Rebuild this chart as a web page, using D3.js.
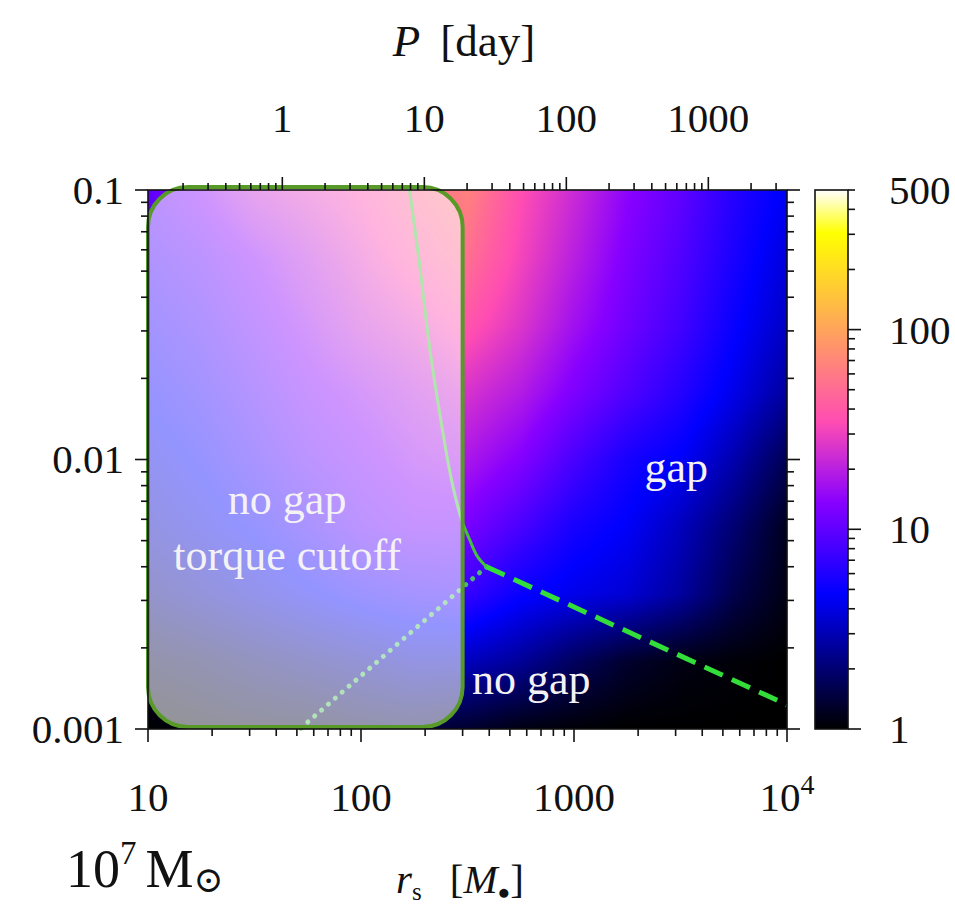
<!DOCTYPE html>
<html>
<head>
<meta charset="utf-8">
<script src="https://cdn.jsdelivr.net/npm/d3@7"></script>
<style>
  body { margin: 0; background: #fff; }
  svg { display: block; }
  text { font-family: "Liberation Serif", "DejaVu Serif", serif; fill: #111; }
</style>
</head>
<body>
<svg id="chart" width="955" height="908"></svg>
<script>
// ---- grid of the mapped quantity: log10(value) on log10(r_s) x log10(q) nodes ----
const logRadius = [1.00, 1.25, 1.50, 1.75, 2.00, 2.25, 2.50, 2.75, 3.00, 3.25, 3.50, 3.75, 4.00];
const logRatio  = [-3.00, -2.75, -2.50, -2.25, -2.00, -1.75, -1.50, -1.25, -1.00];
// one row per logRatio entry (bottom row first)
const logValue = [
  [0.00, 0.05, 0.08, 0.10, 0.15, 0.18, 0.12, 0.05, 0.02, 0.00, 0.00, 0.00, 0.00],
  [0.15, 0.20, 0.28, 0.35, 0.42, 0.50, 0.50, 0.40, 0.25, 0.12, 0.05, 0.02, 0.00],
  [0.35, 0.45, 0.55, 0.65, 0.75, 0.82, 0.85, 0.70, 0.62, 0.56, 0.42, 0.20, 0.05],
  [0.50, 0.60, 0.70, 0.85, 1.00, 1.08, 1.08, 0.92, 0.75, 0.66, 0.50, 0.30, 0.08],
  [0.60, 0.70, 0.85, 1.00, 1.10, 1.20, 1.25, 1.12, 0.92, 0.75, 0.66, 0.46, 0.22],
  [0.70, 0.80, 0.95, 1.10, 1.20, 1.30, 1.40, 1.28, 1.10, 0.95, 0.80, 0.62, 0.42],
  [0.80, 0.90, 1.05, 1.20, 1.35, 1.45, 1.58, 1.42, 1.22, 1.05, 0.90, 0.70, 0.52],
  [0.90, 1.00, 1.15, 1.30, 1.45, 1.60, 1.72, 1.50, 1.30, 1.10, 0.95, 0.76, 0.58],
  [1.00, 1.15, 1.35, 1.45, 1.55, 1.70, 1.82, 1.55, 1.36, 1.15, 1.00, 0.80, 0.65]
];

// ---- boundary curves (r_s in M_bh, q) ----
const cutoffR = [169, 188, 210, 234, 266, 297, 324, 353, 388];
const cutoffQ = [0.1, 0.0536, 0.0261, 0.0149, 0.0084, 0.00597, 0.00503, 0.00435, 0.0040];
const gapR = [388, 10000];
const gapQ = [0.0040, 0.00123];
const torqueR = [388, 51.6];
const torqueQ = [0.0040, 0.001];

// ---- axes ----
const radiusTicks = [10, 100, 1000, 10000];
const ratioTicks = [0.1, 0.01, 0.001];
const periodTicks = [1, 10, 100, 1000];
const colorTicks = [1, 10, 100, 500];
const colorDomain = [1, 500];
const radiusDomain = [10, 1e4];
const ratioDomain = [0.001, 0.1];
const blackHoleMass = 1e7;           // solar masses
const torqueBox = { r: [10, 300], q: [0.001, 0.1] };

const svg = d3.select("#chart");
const x = d3.scaleLog().domain(radiusDomain).range([148, 787]);
const y = d3.scaleLog().domain(ratioDomain).range([729, 190]);

// orbital period in days for a radius in gravitational radii
const tg = 4.925e-6 * blackHoleMass;  // GM/c^3 in seconds
const periodOf = r => 2 * Math.PI * Math.pow(r, 1.5) * tg / 86400;
const xP = d3.scaleLog().domain(radiusDomain.map(periodOf)).range(x.range());

const cScale = d3.scaleLog().domain(colorDomain).range([729, 190]);
const cFrac = d3.scaleLinear().domain([0, Math.log10(colorDomain[1])]).range([0, 1]).clamp(true);

// gnuplot rgbformulae 30,31,32 palette
function palette(t) {
  const cl = v => Math.max(0, Math.min(1, v));
  const r = cl(t / 0.32 - 0.78125);
  const g = cl(2 * t - 0.84);
  let b;
  if (t < 0.25) b = 4 * t;
  else if (t < 0.42) b = 1;
  else if (t < 0.92) b = -2 * t + 1.84;
  else b = t / 0.08 - 11.5;
  return [r * 255, g * 255, cl(b) * 255];
}

// ---- heat map raster ----
const iScale = d3.scaleLinear().domain([logRadius[0], logRadius[logRadius.length - 1]]).range([0, logRadius.length - 1]).clamp(true);
const jScale = d3.scaleLinear().domain([logRatio[0], logRatio[logRatio.length - 1]]).range([0, logRatio.length - 1]).clamp(true);
function fieldAt(lr, lq) {
  const fi = iScale(lr), fj = jScale(lq);
  const i0 = Math.min(Math.floor(fi), logRadius.length - 2), j0 = Math.min(Math.floor(fj), logRatio.length - 2);
  const u = fi - i0, v = fj - j0;
  const a = logValue[j0][i0], b = logValue[j0][i0 + 1], c = logValue[j0 + 1][i0], d = logValue[j0 + 1][i0 + 1];
  return (1 - v) * ((1 - u) * a + u * b) + v * ((1 - u) * c + u * d);
}
const px0 = Math.round(x.range()[0]), px1 = Math.round(x.range()[1]);
const py0 = Math.round(y.range()[1]), py1 = Math.round(y.range()[0]);
const cw = px1 - px0, ch = py1 - py0;
const canvas = document.createElement("canvas");
canvas.width = cw; canvas.height = ch;
const ctx = canvas.getContext("2d");
const img = ctx.createImageData(cw, ch);
for (let j = 0; j < ch; j++) {
  const lq = Math.log10(y.invert(py0 + j + 0.5));
  for (let i = 0; i < cw; i++) {
    const lr = Math.log10(x.invert(px0 + i + 0.5));
    const col = palette(cFrac(fieldAt(lr, lq)));
    const k = (j * cw + i) * 4;
    img.data[k] = col[0]; img.data[k + 1] = col[1]; img.data[k + 2] = col[2]; img.data[k + 3] = 255;
  }
}
ctx.putImageData(img, 0, 0);
svg.append("image").attr("x", px0).attr("y", py0).attr("width", cw).attr("height", ch)
  .attr("preserveAspectRatio", "none").attr("href", canvas.toDataURL());

// ---- boundary curves ----
const line = d3.line().x(d => x(d[0])).y(d => y(d[1]));
svg.append("path").datum(d3.zip(torqueR, torqueQ)).attr("d", line)
  .attr("fill", "none").attr("stroke", "rgba(80,205,95,0.9)").attr("stroke-width", 5)
  .attr("stroke-linecap", "round").attr("stroke-dasharray", "0.1 9");
svg.append("path").datum(d3.zip(gapR, gapQ)).attr("d", line)
  .attr("fill", "none").attr("stroke", "#33dd3a").attr("stroke-width", 5)
  .attr("stroke-dasharray", "20 10");
svg.append("path").datum(d3.zip(cutoffR, cutoffQ)).attr("d", line.curve(d3.curveCatmullRom))
  .attr("fill", "none").attr("stroke", "#45c03c").attr("stroke-width", 3);

// ---- translucent torque-cutoff region ----
const bx0 = x(torqueBox.r[0]), bx1 = x(torqueBox.r[1]);
const by0 = y(torqueBox.q[1]) - 3, by1 = y(torqueBox.q[0]) - 2;
svg.append("rect").attr("x", bx0).attr("y", by0).attr("width", bx1 - bx0).attr("height", by1 - by0)
  .attr("rx", 40).attr("ry", 40)
  .attr("fill", "rgba(255,255,255,0.58)").attr("stroke", "#589a28").attr("stroke-width", 4);

// ---- region labels ----
const labels = [
  { t: "no gap", r: 45, q: 0.0071 },
  { t: "torque cutoff", r: 45, q: 0.0044 },
  { t: "gap", r: 3020, q: 0.0093 },
  { t: "no gap", r: 630, q: 0.00152 }
];
svg.selectAll("text.region").data(labels).join("text").attr("class", "region")
  .attr("x", d => x(d.r)).attr("y", d => y(d.q)).attr("dy", "0.32em")
  .attr("text-anchor", "middle").style("fill", "#f5f2f5").style("font-size", "44px")
  .text(d => d.t);

// ---- frame and ticks ----
const frame = svg.append("g").attr("stroke", "#111").attr("stroke-width", 1.6).attr("fill", "none");
frame.append("rect").attr("x", x.range()[0]).attr("y", y.range()[1])
  .attr("width", x.range()[1] - x.range()[0]).attr("height", y.range()[0] - y.range()[1]);

function logTicks(lo, hi) {
  const out = [];
  for (let e = Math.floor(Math.log10(lo)) ; e <= Math.ceil(Math.log10(hi)); e++) {
    for (let k = 1; k <= 9; k++) {
      const v = k * Math.pow(10, e);
      if (v >= lo * 0.9999 && v <= hi * 1.0001) out.push({ v, major: k === 1 });
    }
  }
  return out;
}
const MAJ = 13, MIN = 7;
logTicks(...radiusDomain).forEach(t => {
  const px = x(t.v), L = t.major ? MAJ : MIN;
  frame.append("line").attr("x1", px).attr("x2", px).attr("y1", y.range()[0]).attr("y2", y.range()[0] + L);
});
logTicks(...xP.domain()).forEach(t => {
  const px = xP(t.v), L = t.major ? MAJ : MIN;
  frame.append("line").attr("x1", px).attr("x2", px).attr("y1", y.range()[1]).attr("y2", y.range()[1] - L);
});
logTicks(...ratioDomain).forEach(t => {
  const py = y(t.v), L = t.major ? MAJ : MIN;
  frame.append("line").attr("x1", x.range()[0]).attr("x2", x.range()[0] - L).attr("y1", py).attr("y2", py);
  frame.append("line").attr("x1", x.range()[1]).attr("x2", x.range()[1] + L).attr("y1", py).attr("y2", py);
});

// tick labels
const fs = 41;
svg.selectAll("text.xt").data(radiusTicks).join("text").attr("class", "xt")
  .attr("x", d => x(d)).attr("y", 811).attr("text-anchor", "middle").style("font-size", fs + "px")
  .each(function (d) {
    const s = d3.select(this);
    if (d >= 1e4) {
      s.append("tspan").text("10");
      s.append("tspan").attr("dy", -17).style("font-size", "28px").text(Math.round(Math.log10(d)));
    } else s.text(d);
  });
svg.selectAll("text.pt").data(periodTicks).join("text").attr("class", "pt")
  .attr("x", d => xP(d)).attr("y", 132).attr("text-anchor", "middle").style("font-size", fs + "px")
  .text(d => d);
svg.selectAll("text.yt").data(ratioTicks).join("text").attr("class", "yt")
  .attr("x", 124).attr("y", d => y(d)).attr("dy", "0.34em").attr("text-anchor", "end")
  .style("font-size", fs + "px").text(d => d);

// ---- colour bar ----
const cbx = 815, cbw = 33;
const cb = document.createElement("canvas");
const cbh = Math.round(cScale.range()[0] - cScale.range()[1]);
cb.width = 1; cb.height = cbh;
const cbctx = cb.getContext("2d");
const cbimg = cbctx.createImageData(1, cbh);
for (let j = 0; j < cbh; j++) {
  const v = cScale.invert(cScale.range()[1] + j + 0.5);
  const col = palette(cFrac(Math.log10(v)));
  cbimg.data[j * 4] = col[0]; cbimg.data[j * 4 + 1] = col[1]; cbimg.data[j * 4 + 2] = col[2]; cbimg.data[j * 4 + 3] = 255;
}
cbctx.putImageData(cbimg, 0, 0);
svg.append("image").attr("x", cbx).attr("y", cScale.range()[1]).attr("width", cbw).attr("height", cbh)
  .attr("preserveAspectRatio", "none").attr("href", cb.toDataURL());
const cbf = svg.append("g").attr("stroke", "#111").attr("stroke-width", 1.6).attr("fill", "none");
cbf.append("rect").attr("x", cbx).attr("y", cScale.range()[1]).attr("width", cbw).attr("height", cbh);
logTicks(...colorDomain).forEach(t => {
  const py = cScale(t.v), L = t.major ? MAJ : MIN;
  cbf.append("line").attr("x1", cbx + cbw).attr("x2", cbx + cbw + L).attr("y1", py).attr("y2", py);
});
svg.selectAll("text.ct").data(colorTicks).join("text").attr("class", "ct")
  .attr("x", 889).attr("y", d => cScale(d)).attr("dy", "0.34em")
  .style("font-size", fs + "px").text(d => d);

// ---- axis titles ----
const pt = svg.append("text").attr("x", 464).attr("y", 56).attr("text-anchor", "middle").style("font-size", "45px");
pt.append("tspan").style("font-style", "italic").text("P");
pt.append("tspan").attr("dx", 20).text("[day]");

const rt = svg.append("text").attr("x", 460).attr("y", 893).attr("text-anchor", "middle").style("font-size", "41px");
rt.append("tspan").style("font-style", "italic").text("r");
rt.append("tspan").attr("dy", 7).style("font-size", "25px").text("s");
rt.append("tspan").attr("dy", -7).attr("dx", 28).text("[");
rt.append("tspan").style("font-style", "italic").text("M");
rt.append("tspan").attr("dy", 6).style("font-size", "21px").text("●");
rt.append("tspan").attr("dy", -6).text("]");

const mt = svg.append("text").attr("x", 66).attr("y", 887).style("font-size", "54px");
mt.append("tspan").text("10");
mt.append("tspan").attr("dy", -23).style("font-size", "33px").text("7");
mt.append("tspan").attr("dy", 23).attr("dx", 9).text("M");
mt.append("tspan").attr("dy", 5).style("font-size", "36px").text("⊙");
</script>
</body>
</html>
